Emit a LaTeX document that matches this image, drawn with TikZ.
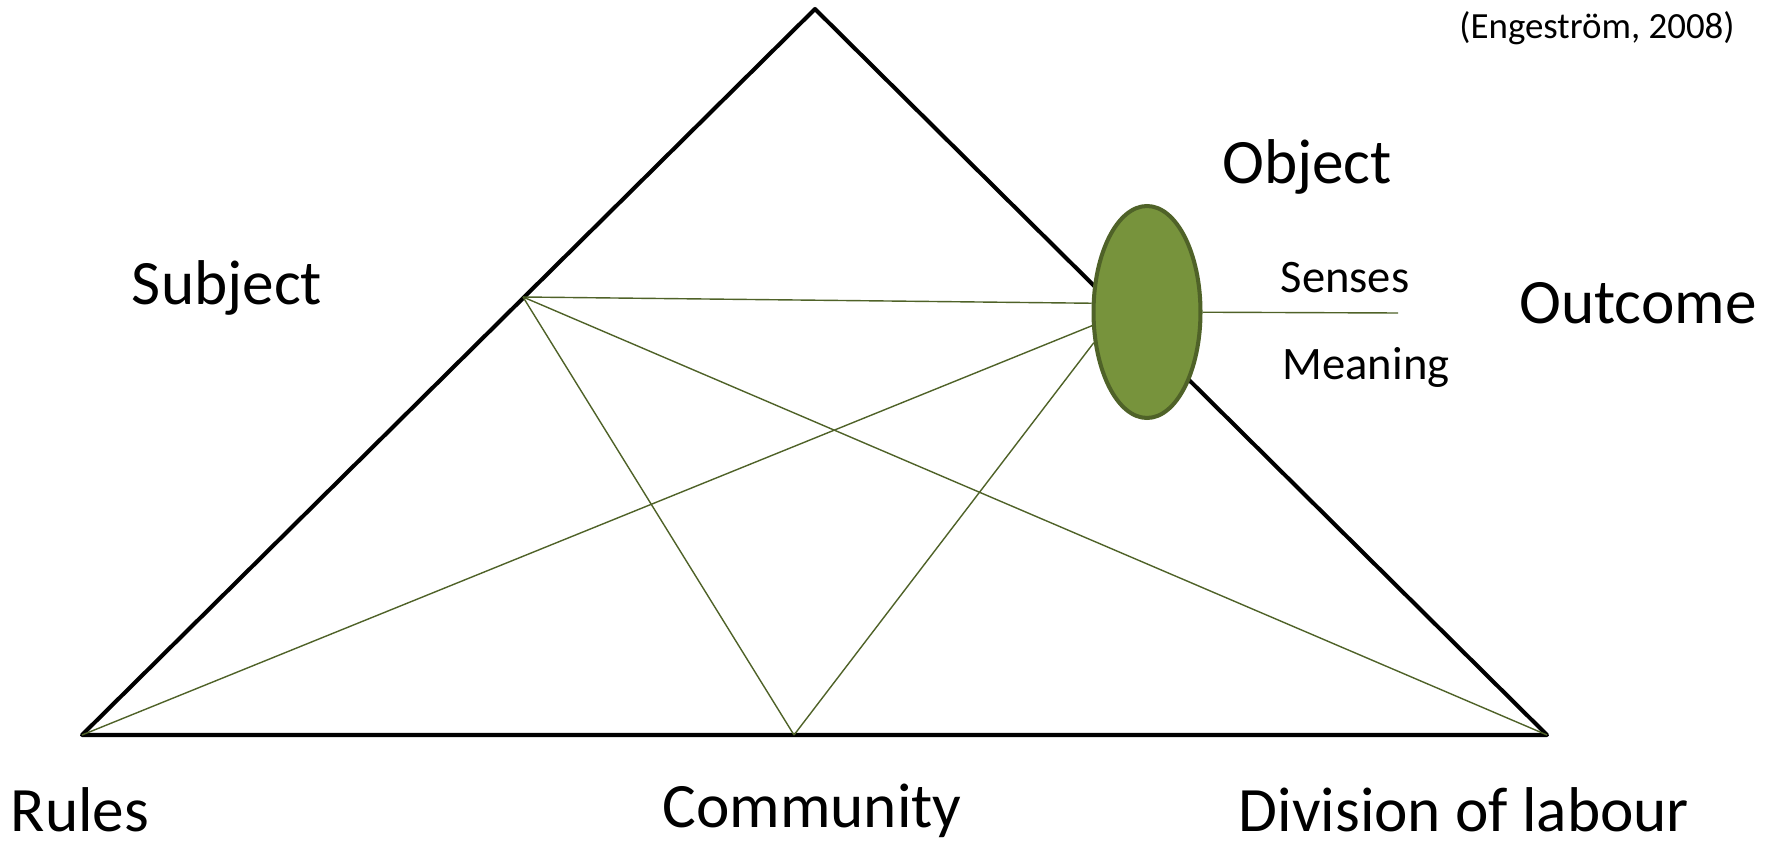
\documentclass[tikz,border=0pt]{standalone}
\usepackage{fontspec}
\setmainfont{Carlito}
\usepackage{xcolor}
\usetikzlibrary{shapes.geometric}
\definecolor{olivefill}{HTML}{77933C}
\definecolor{olivedark}{HTML}{4F6228}
\newcommand{\bigtext}{\fontsize{36}{40}\selectfont}
\newcommand{\midtext}{\fontsize{26.5}{30}\selectfont}
\newcommand{\smalltext}{\fontsize{21}{24}\selectfont}

\begin{document}
\begin{tikzpicture}[x=0.02cm,y=-0.02cm,
    triangle/.style={draw=black,line width=2.3pt,line join=round},
    link/.style={draw=olivedark,line width=0.8pt},
    objoval/.style={ellipse,draw=olivedark,line width=2.3pt,fill=olivefill,
        minimum width=2.14cm,minimum height=4.24cm,inner sep=0pt}]
    \useasboundingbox (0,0) rectangle (1771,847);
    % corners of the triangle and the mediating points
    \coordinate (top) at (815,9);
    \coordinate (rul) at (82,735);
    \coordinate (div) at (1547,735);
    \coordinate (sub) at (523,297);
    \coordinate (com) at (794,735);
    \coordinate (out) at (1398,313);
    \draw[triangle] (rul) -- (top) -- (div) -- cycle;
    \foreach \a/\b in {sub/com,sub/div}{%
        \draw[link] (\a) -- (\b);
    }%
    \node[objoval] (obj) at (1147,312) {};
    \foreach \a/\ang in {sub/171.6,rul/194.5,com/210.8}{%
        \draw[link] (\a) -- (obj.\ang);
    }%
    \draw[link] (obj) -- (out);
    % labels
    \node[font=\bigtext] (lsub) at (227,288) {Subject};
    \node[font=\bigtext] (lobj) at (1307,167) {Object};
    \node[font=\bigtext] (lout) at (1638,303) {Outcome};
    \node[font=\midtext] (lsen) at (1345,278) {Senses};
    \node[font=\midtext] (lmea) at (1366,367) {Meaning};
    \node[font=\bigtext] (lrul) at (80,810) {Rules};
    \node[font=\bigtext] (lcom) at (812,811) {Community};
    \node[font=\bigtext] (ldiv) at (1464,810) {Division of labour};
    \node[font=\smalltext] (lref) at (1597,28) {(Engeström, 2008)};
\end{tikzpicture}
\end{document}
